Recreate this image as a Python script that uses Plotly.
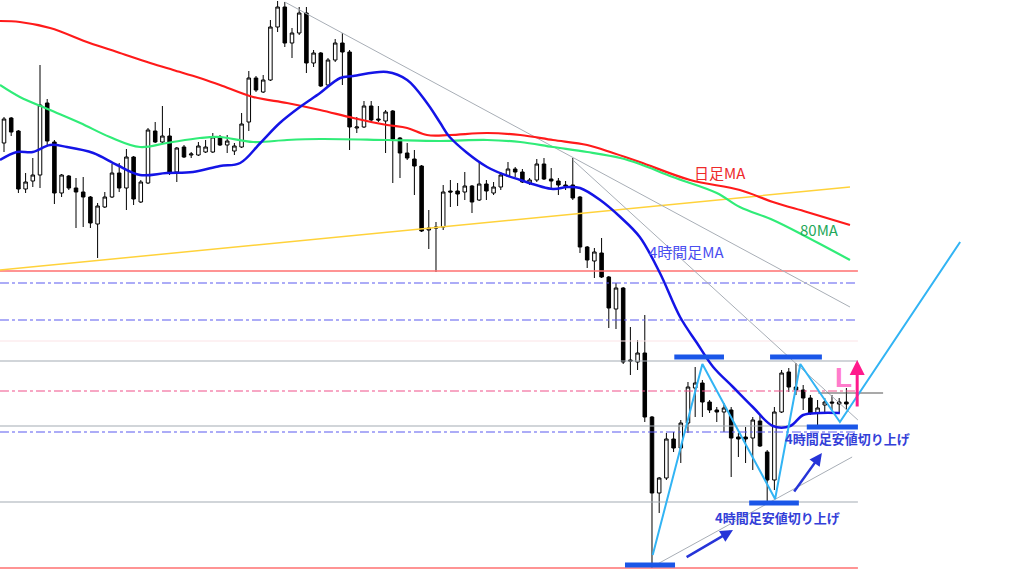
import plotly.graph_objects as go

# 4H candles, price in chart units (higher = up)
opens = [457, 482, 469, 411, 419, 425, 497, 458, 407, 424, 412, 408, 403, 376, 393, 403, 427, 412, 443, 398,
         417, 469, 458, 464, 428, 453, 445, 445, 448, 448, 463, 455, 449, 453, 478, 522, 508, 520, 573, 593,
         557, 567, 587, 537, 547, 515, 540, 557, 548, 472, 473, 494, 481, 479, 489, 462, 447, 441, 434, 370,
         373, 373, 409, 409, 408, 414, 400, 416, 407, 413, 424, 431, 428, 417, 420, 436, 421, 419, 415, 415,
         403, 353, 339, 347, 323, 291, 312, 240, 238, 247, 183, 107, 122, 161, 152, 177, 212, 217, 198, 190,
         188, 190, 163, 163, 162, 179, 148, 120, 188, 228, 213, 210, 202, 187, 195, 198, 196, 198]
highs = [483, 483, 470, 427, 442, 535, 501, 460, 426, 425, 422, 423, 404, 397, 408, 436, 437, 451, 444, 420,
         472, 478, 494, 472, 453, 455, 448, 458, 460, 467, 465, 465, 457, 487, 529, 524, 525, 580, 599, 598,
         572, 593, 593, 550, 548, 542, 561, 567, 550, 483, 499, 499, 494, 490, 490, 463, 457, 450, 435, 390,
         378, 415, 420, 417, 428, 415, 437, 420, 418, 428, 438, 433, 431, 422, 441, 442, 432, 422, 419, 442,
         404, 354, 352, 362, 324, 317, 313, 273, 260, 285, 184, 123, 167, 168, 180, 218, 233, 220, 200, 193,
         197, 193, 167, 173, 183, 185, 150, 193, 230, 232, 237, 215, 205, 200, 202, 205, 202, 212]
lows = [448, 464, 407, 407, 413, 412, 455, 396, 403, 410, 372, 373, 372, 342, 392, 402, 408, 390, 395, 397,
        416, 457, 457, 425, 418, 442, 442, 444, 447, 447, 454, 447, 445, 452, 469, 508, 507, 519, 568, 553,
        542, 565, 527, 533, 513, 513, 538, 515, 450, 467, 472, 478, 478, 447, 417, 422, 440, 405, 368, 351,
        328, 370, 393, 394, 400, 387, 399, 400, 405, 410, 423, 423, 417, 415, 418, 420, 410, 405, 410, 400,
        347, 332, 322, 322, 272, 271, 236, 225, 230, 178, 32, 87, 120, 148, 137, 167, 183, 183, 187, 178,
        168, 123, 143, 137, 130, 153, 98, 110, 187, 208, 205, 190, 185, 175, 187, 190, 187, 190]
closes = [481, 468, 411, 418, 425, 495, 459, 407, 425, 412, 408, 403, 377, 394, 403, 427, 412, 443, 401, 418,
          470, 458, 464, 428, 452, 443, 446, 454, 453, 463, 455, 459, 454, 476, 522, 510, 520, 573, 593, 557,
          567, 587, 537, 547, 514, 540, 557, 548, 473, 473, 494, 480, 480, 488, 461, 447, 442, 434, 369, 372,
          372, 408, 408, 406, 414, 398, 416, 409, 413, 425, 431, 428, 418, 420, 436, 421, 419, 415, 414, 402,
          353, 340, 348, 323, 292, 312, 238, 239, 247, 183, 107, 122, 161, 152, 177, 213, 217, 198, 190, 188,
          192, 162, 161, 161, 180, 154, 120, 188, 227, 213, 210, 202, 187, 192, 198, 197, 198, 196]
bars = list(range(len(opens)))

# moving averages sampled along the bar axis
red_ma_x = [-0.56, 2.2, 6.4, 11.9, 15.7, 20.3, 23.5, 27.2, 30, 34.6, 39.3, 43.9, 48.5, 53.2, 56, 58.75, 61.9,
            67.1, 71.7, 76.25, 81, 84.6, 88.3, 95.3, 102.2, 106.8, 111.5, 117.5]
red_ma_y = [579, 578, 572, 557, 548, 537, 530, 522, 515, 503, 497, 490, 482, 475, 472, 465, 465,
            467, 465, 460, 455, 447, 438, 420, 410, 398, 388, 375]
green_ma_x = [-0.56, 2.2, 6.4, 10.6, 14.7, 18.9, 22.6, 27.2, 30, 34.6, 39.3, 43.9, 53.2, 60.6, 67.1, 71.7,
              76.25, 81, 85.6, 88.3, 92.9, 99, 102.2, 106.8, 111.5, 117.5]
green_ma_y = [515, 503, 490, 477, 463, 453, 457, 462, 463, 458, 460, 461, 460, 459, 460, 458,
              453, 448, 442, 436, 423, 407, 393, 380, 363, 340]
blue_ma_x = [-0.56, 1.8, 4, 6.4, 8.75, 12.4, 15.7, 18.9, 22.6, 26.25, 30, 32.8, 35.6, 38.3, 41.1, 43.9, 46.7,
             48.5, 53.2, 56, 58.75, 60.6, 61.9, 67.1, 71.7, 76.25, 78.2, 80, 82.8, 85.6, 88.3, 91.1, 93.9,
             96.25, 98.5, 101.25, 104, 106.8, 109.2, 111, 113.3, 116.1]
blue_ma_y = [440, 448, 448, 455, 453, 447, 435, 425, 427, 428, 434, 437, 457, 477, 493, 507, 522,
             524, 528, 520, 497, 477, 463, 433, 420, 411, 413, 412, 400, 383, 363, 327, 283,
             257, 233, 213, 193, 174, 174, 185, 187, 187]
long_ma_x = [-0.56, 117.5]
long_ma_y = [330, 413]

# horizontal levels
level_span = [-0.56, 118.6]
red_levels = [329, 32]
blue_dd_levels = [317, 280, 168]
gray_levels = [239, 174, 98]
pink_dd_levels = [209]
faint_levels = [259]

# trend lines (x0, y0, x1, y1)
trend_lines = [(39.0, 598, 117.5, 293), (79, 440, 118.6, 180), (90, 33, 117.8, 143)]
short_level = (113.1, 122.1, 207)

# swing markup
zigzag_x = [90.1, 97.0, 107.1, 110.6, 116.1, 132.8]
zigzag_y = [45, 236, 101, 236, 178, 358]
swing_marks = [(86.25, 93.2, 35), (93.1, 100, 243), (106.4, 113.6, 243), (103.5, 110.4, 97), (111.5, 118.6, 173)]
up_arrows = [(94.6, 42, 101.25, 70), (109.6, 107, 113.6, 147)]


def level_trace(levels, color, dash, width=1):
    xs, ys = [], []
    for lv in levels:
        xs += level_span + [None]
        ys += [lv, lv, None]
    return go.Scatter(x=xs, y=ys, mode='lines', line=dict(color=color, width=width, dash=dash),
                      hoverinfo='skip')


fig = go.Figure()

fig.add_trace(go.Candlestick(
    x=bars, open=opens, high=highs, low=lows, close=closes,
    increasing=dict(fillcolor='white', line=dict(color='black', width=1)),
    decreasing=dict(fillcolor='black', line=dict(color='black', width=1)),
    whiskerwidth=0,
))

fig.add_trace(level_trace(faint_levels, '#fbe3e6', 'solid'))
fig.add_trace(level_trace(red_levels, '#ff7070', 'solid', 1.5))
fig.add_trace(level_trace(gray_levels, '#a4abb3', 'solid', 1.2))
fig.add_trace(level_trace(blue_dd_levels, '#5a5af0', 'dashdot', 1.2))
fig.add_trace(level_trace(pink_dd_levels, '#f0508a', 'dashdot', 1.2))

fig.add_trace(go.Scatter(x=long_ma_x, y=long_ma_y, mode='lines', line=dict(color='#ffd23a', width=1.5)))

tx, ty = [], []
for x0, y0, x1, y1 in trend_lines:
    tx += [x0, x1, None]
    ty += [y0, y1, None]
fig.add_trace(go.Scatter(x=tx, y=ty, mode='lines', line=dict(color='#a8aeb6', width=1)))
fig.add_trace(go.Scatter(x=[short_level[0], short_level[1]], y=[short_level[2]] * 2, mode='lines',
                         line=dict(color='#555555', width=1.2)))

fig.add_trace(go.Scatter(x=red_ma_x, y=red_ma_y, mode='lines', line=dict(color='#ff1a1a', width=2.2, shape='spline')))
fig.add_trace(go.Scatter(x=green_ma_x, y=green_ma_y, mode='lines', line=dict(color='#30ec78', width=2.2, shape='spline')))
fig.add_trace(go.Scatter(x=blue_ma_x, y=blue_ma_y, mode='lines', line=dict(color='#1414e6', width=2.5, shape='spline')))

fig.add_trace(go.Scatter(x=zigzag_x, y=zigzag_y, mode='lines', line=dict(color='#32b4f4', width=2)))

sx, sy = [], []
for x0, x1, lv in swing_marks:
    sx += [x0, x1, None]
    sy += [lv, lv, None]
fig.add_trace(go.Scatter(x=sx, y=sy, mode='lines', line=dict(color='#1a56e8', width=5)))

for x0, y0, x1, y1 in up_arrows:
    fig.add_annotation(x=x1, y=y1, ax=x0, ay=y0, xref='x', yref='y', axref='x', ayref='y',
                       text='', showarrow=True, arrowhead=2, arrowsize=1, arrowwidth=2.5,
                       arrowcolor='#2634d8')

fig.add_annotation(x=118.5, y=240, ax=118.5, ay=192, xref='x', yref='y', axref='x', ayref='y',
                   text='', showarrow=True, arrowhead=2, arrowsize=1, arrowwidth=3, arrowcolor='#ff1a8c')

labels = [
    (99.4, 428, '日足MA', '#ee2a2a', 15, False, 'Noto Sans CJK JP'),
    (113.3, 371, '80MA', '#1fa85a', 15, False, 'Noto Sans CJK JP'),
    (94.9, 349, '4時間足MA', '#4a4ef0', 15, False, 'Noto Sans CJK JP'),
    (107.4, 83, '4時間足安値切り上げ', '#3340d8', 13, True, 'Noto Sans CJK JP'),
    (117.1, 162, '4時間足安値切り上げ', '#3340d8', 13, True, 'Noto Sans CJK JP'),
    (116.6, 223, 'L', '#ff7ccc', 28, True, 'Liberation Sans'),
]
for x, y, txt, col, size, bold, fam in labels:
    fig.add_annotation(x=x, y=y, xref='x', yref='y', text=f'<b>{txt}</b>' if bold else txt,
                       showarrow=False, font=dict(family=fam, size=size, color=col))

fig.update_layout(
    width=1024, height=576,
    margin=dict(l=0, r=0, t=0, b=0),
    paper_bgcolor='white', plot_bgcolor='white',
    showlegend=False,
    xaxis=dict(visible=False, range=[-0.556, 141.67], rangeslider=dict(visible=False)),
    yaxis=dict(visible=False, range=[24, 600]),
)

fig.write_html("out.html", config={'displayModeBar': False},
               post_script="document.body.style.margin='0px';")
